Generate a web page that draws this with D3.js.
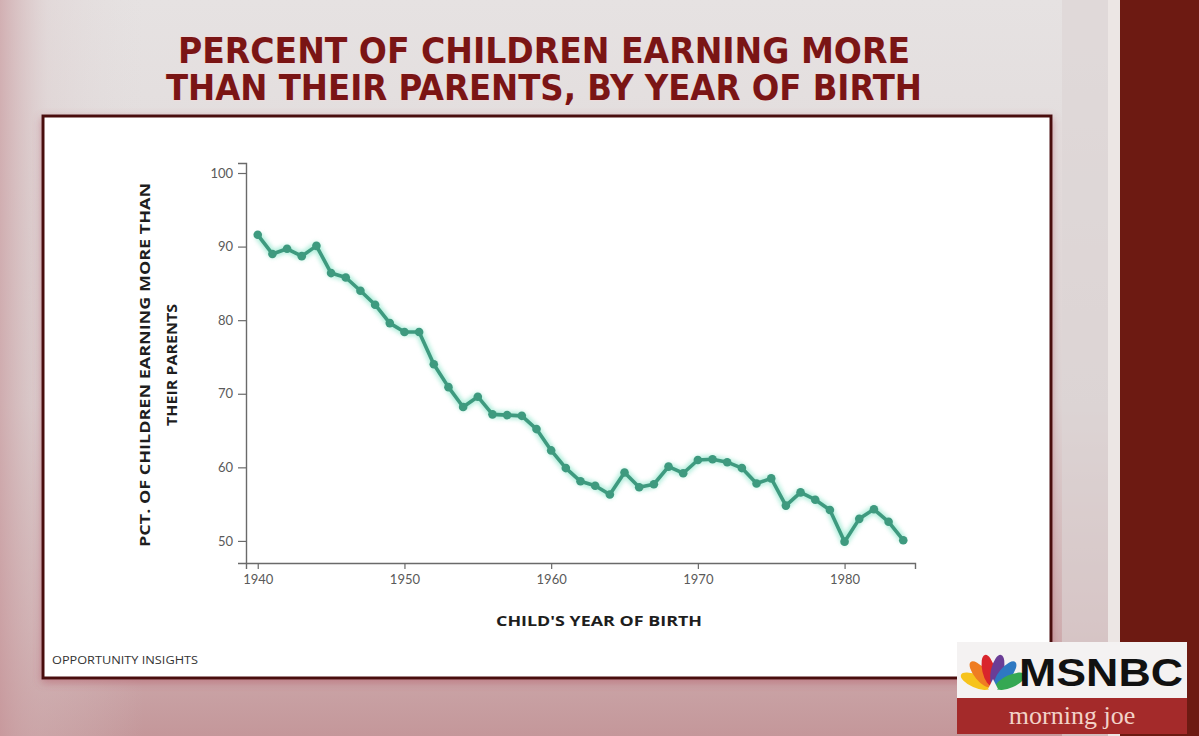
<!DOCTYPE html>
<html><head><meta charset="utf-8">
<script src="https://cdn.jsdelivr.net/npm/d3@7"></script>
<style>html,body{margin:0;padding:0;background:#ddd;}svg{display:block;}</style>
</head><body>
<svg id="c" width="1199" height="736"></svg>
<script>
const years = [1940,1941,1942,1943,1944,1945,1946,1947,1948,1949,1950,1951,1952,1953,1954,1955,1956,1957,1958,1959,1960,1961,1962,1963,1964,1965,1966,1967,1968,1969,1970,1971,1972,1973,1974,1975,1976,1977,1978,1979,1980,1981,1982,1983,1984];
const pct = [91.6,89.0,89.7,88.7,90.1,86.4,85.8,84.0,82.1,79.6,78.4,78.4,74.0,70.9,68.2,69.6,67.2,67.1,67.0,65.2,62.3,59.9,58.1,57.5,56.3,59.3,57.3,57.7,60.1,59.2,61.0,61.1,60.7,59.9,57.8,58.5,54.8,56.6,55.6,54.2,49.9,53.0,54.3,52.6,50.1];
const xTicks = [1940,1950,1960,1970,1980];
const yTicks = [50,60,70,80,90,100];
const titleLines = ["PERCENT OF CHILDREN EARNING MORE","THAN THEIR PARENTS, BY YEAR OF BIRTH"];
const yLabelLines = ["PCT. OF CHILDREN EARNING MORE THAN","THEIR PARENTS"];
const xLabel = "CHILD'S YEAR OF BIRTH";
const source = "OPPORTUNITY INSIGHTS";

const svg = d3.select("#c");
const defs = svg.append("defs");

const bgV = defs.append("linearGradient").attr("id","bgV").attr("x1",0).attr("y1",0).attr("x2",0).attr("y2",1);
bgV.append("stop").attr("offset","0%").attr("stop-color","#e6e2e2");
bgV.append("stop").attr("offset","55%").attr("stop-color","#ddd5d5");
bgV.append("stop").attr("offset","85%").attr("stop-color","#cfb0b2");
bgV.append("stop").attr("offset","100%").attr("stop-color","#c4979a");
const bgH = defs.append("linearGradient").attr("id","bgH").attr("x1",0).attr("y1",0).attr("x2",1).attr("y2",0);
bgH.append("stop").attr("offset","0%").attr("stop-color","#c99a9e").attr("stop-opacity",0.7);
bgH.append("stop").attr("offset","4%").attr("stop-color","#d9c4c5").attr("stop-opacity",0.3);
bgH.append("stop").attr("offset","12%").attr("stop-color","#e0d8d8").attr("stop-opacity",0);
bgH.append("stop").attr("offset","100%").attr("stop-color","#e0d8d8").attr("stop-opacity",0);

const blur = defs.append("filter").attr("id","glow").attr("x","-10%").attr("y","-10%").attr("width","120%").attr("height","120%");
blur.append("feGaussianBlur").attr("stdDeviation",2);
const shadow = defs.append("filter").attr("id","shadow").attr("x","-5%").attr("y","-5%").attr("width","110%").attr("height","115%");
shadow.append("feGaussianBlur").attr("in","SourceAlpha").attr("stdDeviation",4);
shadow.append("feOffset").attr("dx",0).attr("dy",3).attr("result","b");
shadow.append("feFlood").attr("flood-color","#b05060").attr("flood-opacity",0.5);
shadow.append("feComposite").attr("in2","b").attr("operator","in");
const m = shadow.append("feMerge"); m.append("feMergeNode"); m.append("feMergeNode").attr("in","SourceGraphic");

svg.append("rect").attr("width",1199).attr("height",736).attr("fill","url(#bgV)");
svg.append("rect").attr("width",1199).attr("height",736).attr("fill","url(#bgH)");

svg.append("rect").attr("x",1062).attr("y",0).attr("width",46).attr("height",736).attr("fill","#dcd3d3").attr("opacity",0.6);
svg.append("rect").attr("x",1108).attr("y",0).attr("width",12).attr("height",736).attr("fill","#ece6e4");
svg.append("rect").attr("x",1120).attr("y",0).attr("width",79).attr("height",736).attr("fill","#6d1a12");

// title
const title = svg.append("g");
titleLines.forEach((t,i)=>{
  title.append("text").attr("x",544).attr("y",i===0?63:100)
    .attr("text-anchor","middle")
    .attr("font-family","'DejaVu Sans Condensed','Liberation Sans Narrow',sans-serif")
    .attr("font-weight","bold").attr("font-size",35)
    .attr("textLength", i===0?732:756).attr("lengthAdjust","spacingAndGlyphs")
    .attr("fill","#7a1515").attr("stroke","#f6d8d8").attr("stroke-width",0.8).attr("paint-order","stroke")
    .text(t);
});

// panel
svg.append("rect").attr("x",43).attr("y",116).attr("width",1008).attr("height",562)
  .attr("fill","#ffffff").attr("stroke","#4a0f10").attr("stroke-width",3).attr("filter","url(#shadow)");

const x = d3.scaleLinear().domain([1939.2,1984.8]).range([246,915]);
const y = d3.scaleLinear().domain([47,101.36]).range([563,163]);

const font = "Lato, 'DejaVu Sans', sans-serif";
const xAxis = svg.append("g").attr("transform","translate(0,563)")
  .call(d3.axisBottom(x).tickValues(xTicks).tickFormat(d3.format("d")).tickSizeOuter(0).tickSize(6).tickPadding(6));
const yAxis = svg.append("g").attr("transform","translate(246,0)")
  .call(d3.axisLeft(y).tickValues(yTicks).tickSizeOuter(0).tickSize(8).tickPadding(5));
[xAxis,yAxis].forEach(a=>{
  a.select(".domain").attr("stroke","#6a6a6a").attr("stroke-width",1.4);
  a.selectAll(".tick line").attr("stroke","#6a6a6a").attr("stroke-width",1.2);
  a.selectAll(".tick text").attr("fill","#5a5a5a").attr("font-family",font).attr("font-size",13);
});

const pts = years.map((yr,i)=>[yr,pct[i]]);
const line = d3.line().x(d=>x(d[0])).y(d=>y(d[1]));
svg.append("path").datum(pts).attr("d",line).attr("fill","none")
  .attr("stroke","#74e0bf").attr("stroke-width",8).attr("stroke-linejoin","round").attr("opacity",0.55).attr("filter","url(#glow)");
svg.append("path").datum(pts).attr("d",line).attr("fill","none")
  .attr("stroke","#3e9a7f").attr("stroke-width",3.6).attr("stroke-linejoin","round");
svg.append("g").selectAll("circle").data(pts).join("circle")
  .attr("cx",d=>x(d[0])).attr("cy",d=>y(d[1])).attr("r",4.3).attr("fill","#3e9a7f");

const yl = svg.append("g").attr("transform","translate(0,365) rotate(-90)");
yLabelLines.forEach((t,i)=>{
  yl.append("text").attr("x",0).attr("y",i===0?150:177).attr("text-anchor","middle")
    .attr("font-family","'Open Sans','DejaVu Sans',sans-serif").attr("font-weight","bold").attr("font-size",14)
    .attr("fill","#1e1e1e").attr("textLength", i===0?364:122).attr("lengthAdjust","spacingAndGlyphs").text(t);
});
svg.append("text").attr("x",599).attr("y",626).attr("text-anchor","middle")
  .attr("font-family","'Open Sans','DejaVu Sans',sans-serif").attr("font-weight","bold").attr("font-size",15)
  .attr("fill","#1e1e1e").attr("textLength",206).attr("lengthAdjust","spacingAndGlyphs").text(xLabel);
svg.append("text").attr("x",52).attr("y",664)
  .attr("font-family","'Open Sans','DejaVu Sans',sans-serif").attr("font-size",10.5)
  .attr("fill","#333").attr("textLength",146).attr("lengthAdjust","spacingAndGlyphs").text(source);

// MSNBC logo
const logo = svg.append("g");
logo.append("rect").attr("x",957).attr("y",642).attr("width",230).attr("height",56).attr("fill","#f4f2f2");
logo.append("rect").attr("x",957).attr("y",698).attr("width",230).attr("height",36).attr("fill","#a42a2a");
const feathers = ["#f6c31c","#ef7d22","#d9252c","#6a3d96","#2e78c2","#35a853"];
const px = 993, py = 689;
feathers.forEach((c,i)=>{
  const ang = -66 + i*26.4;
  logo.append("ellipse").attr("cx",px).attr("cy",py-19).attr("rx",6.3).attr("ry",16)
    .attr("fill",c).attr("transform",`rotate(${ang},${px},${py})`);
});
logo.append("path").attr("d",`M${px-5},${py} L${px},${py-10} L${px+5},${py} Z`).attr("fill","#f4f2f2");
logo.append("text").attr("x",1019).attr("y",686).attr("font-family","'Liberation Sans','DejaVu Sans',sans-serif")
  .attr("font-weight","bold").attr("font-size",38).attr("fill","#111").attr("textLength",164).attr("lengthAdjust","spacingAndGlyphs").text("MSNBC");
logo.append("text").attr("x",1072).attr("y",724).attr("text-anchor","middle").attr("font-family","'Liberation Serif','DejaVu Serif',serif")
  .attr("font-size",26).attr("fill","#f2d2c8").text("morning joe");
</script>
</body></html>
